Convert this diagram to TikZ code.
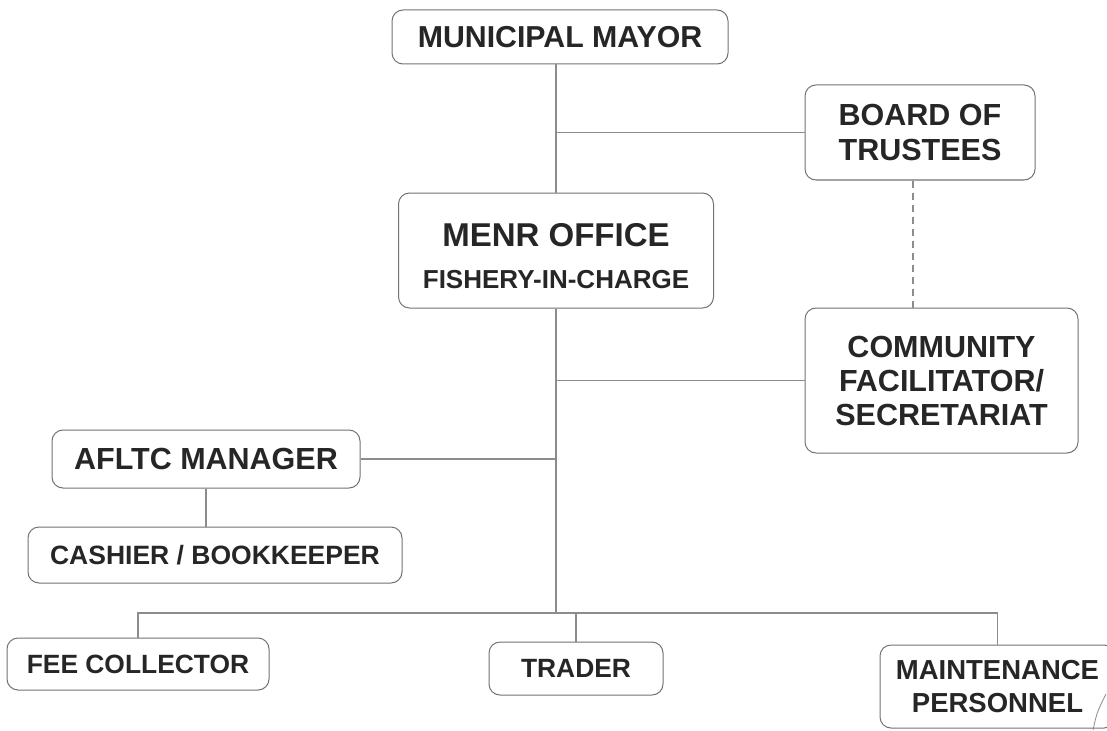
\documentclass[tikz,border=0pt]{standalone}
\usepackage{fontspec}
\setmainfont{Liberation Sans}
\usetikzlibrary{positioning, calc}

\newcommand{\fs}[2]{\fontsize{#1}{#2}\selectfont\bfseries}

\tikzset{
  unit/.style={draw=black!55, line width=1pt, rounded corners=11pt, align=center,
    inner sep=0pt, text=black!85},
  word/.style={inner sep=0pt, text=black!85},
  link/.style={draw=black!45, line width=1.1pt},
}

\begin{document}
\begin{tikzpicture}[x=1pt, y=-1pt]
            % 1. Page
            \fill[white] (0,0) rectangle (1107,730);
            \useasboundingbox (0,0) rectangle (1107,730);

            % 2. Boxes
            \node[unit, minimum width=336pt, minimum height=54pt, font=\fs{30.3}{35}] (mayor) at (560,37) {MUNICIPAL MAYOR};
            \node[unit, minimum width=230pt, minimum height=95pt, font=\fs{30.5}{35}] (board) at (920,132.5) {BOARD OF\\TRUSTEES};
            \node[unit, minimum width=315pt, minimum height=115pt] (menr) at (556,250.5) {};
            \node[word, font=\fs{33}{36}] (menrtop) at (556,235) {MENR OFFICE};
            \node[word, font=\fs{26}{30}] (menrsub) at (556,280) {FISHERY-IN-CHARGE};
            \node[unit, minimum width=273pt, minimum height=145pt, font=\fs{30.5}{34}] (community) at (941.5,380.5) {COMMUNITY\\FACILITATOR/\\SECRETARIAT};
            \node[unit, minimum width=308pt, minimum height=58pt, font=\fs{30.5}{35}] (afltc) at (206,459) {AFLTC MANAGER};
            \node[unit, minimum width=374pt, minimum height=56pt, font=\fs{26.5}{30}] (cashier) at (215,555) {CASHIER / BOOKKEEPER};
            \node[unit, minimum width=262pt, minimum height=52pt, font=\fs{26.4}{30}] (fee) at (138,664) {FEE COLLECTOR};
            \node[unit, minimum width=174pt, minimum height=53pt, font=\fs{26.4}{30}] (trader) at (576,668.5) {TRADER};
            \node[unit, minimum width=235pt, minimum height=83pt, font=\fs{27.5}{33}] (maint) at (997.5,686.5) {MAINTENANCE\\PERSONNEL};

            % 3. Branch line
            \coordinate (bus) at (556,613);

            % 4. Connectors
            \draw[link] (menr.north) -- (menr.north |- mayor.south);
            \draw[link] (menr.north |- board.west) -- (board.west);
            \draw[link, dash pattern=on 7pt off 5pt] ([xshift=-7pt]board.south) -- ([xshift=-7pt]board.south |- community.north);
            \draw[link] (menr.south) -- (bus);
            \draw[link] (menr.south |- community.west) -- (community.west);
            \draw[link] (afltc.east) -- (afltc.east -| menr.south);
            \draw[link] (afltc.south) -- (afltc.south |- cashier.north);
            \draw[link] (fee.north) -- (fee.north |- bus) -- (maint.north |- bus) -- (maint.north);
            \draw[link] (trader.north) -- (trader.north |- bus);

            % 5. Stroke at the corner
            \draw[black!45, line width=0.8pt] (1093,730) .. controls (1097,712) .. (1106,694);
        \end{tikzpicture}
\end{document}
